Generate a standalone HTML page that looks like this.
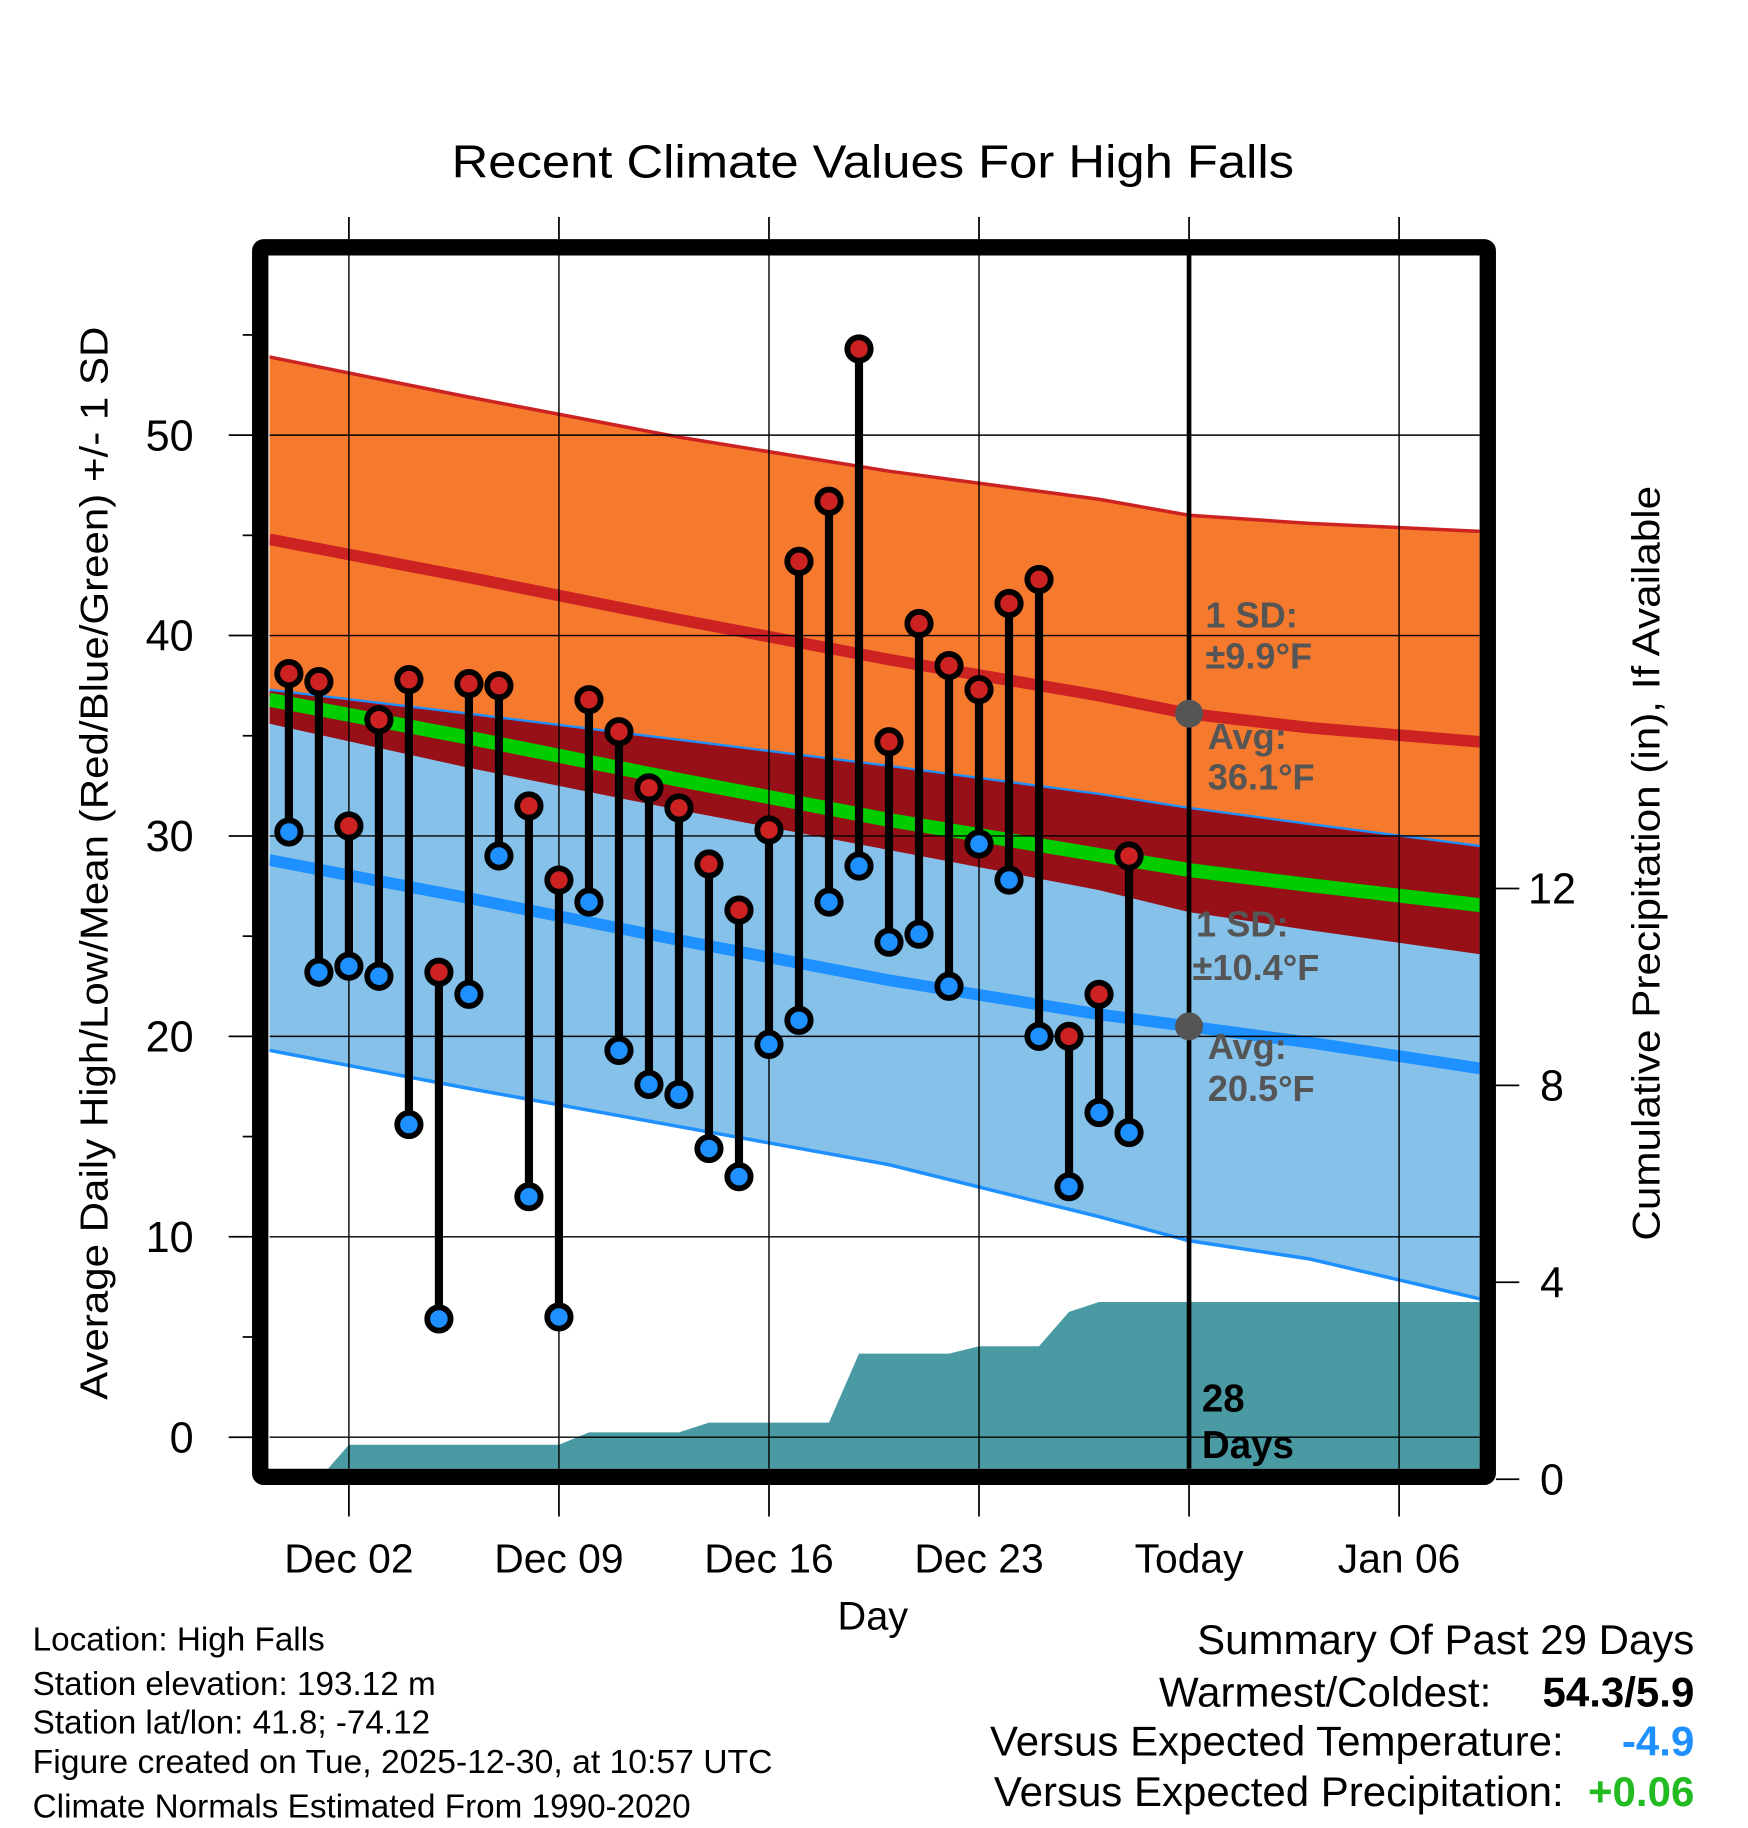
<!DOCTYPE html>
<html><head><meta charset="utf-8"><style>
html,body{margin:0;padding:0;background:#fff}
svg{display:block}
text{font-family:"Liberation Sans",sans-serif}
</style></head><body>
<svg id="chart" xmlns="http://www.w3.org/2000/svg" width="1748" height="1828" viewBox="0 0 1498 1567" preserveAspectRatio="none">
<defs><clipPath id="plotclip"><rect x="231" y="219" width="1037" height="1040"/></clipPath></defs>
<text x="748" y="152" font-size="40" text-anchor="middle" textLength="722" lengthAdjust="spacingAndGlyphs">Recent Climate Values For High Falls</text>
<g id="bands" clip-path="url(#plotclip)"></g>
<g id="axes"></g>
<g id="marks"></g>
<text transform="translate(92,740) rotate(-90)" font-size="33" text-anchor="middle" textLength="920" lengthAdjust="spacingAndGlyphs">Average Daily High/Low/Mean (Red/Blue/Green) +/- 1 SD</text>
<text transform="translate(1422,740) rotate(-90)" font-size="33" text-anchor="middle" textLength="647" lengthAdjust="spacingAndGlyphs">Cumulative Precipitation (in), If Available</text>
<text x="748" y="1397" font-size="34" text-anchor="middle">Day</text>
<g font-size="31" font-weight="bold" fill="#555">
<text x="1033" y="538">1 SD:</text><text x="1033" y="573">±9.9°F</text>
<text x="1035" y="642">Avg:</text><text x="1035" y="677">36.1°F</text></g>
<g font-size="31" font-weight="bold" fill="#555">
<text x="1025" y="803">1 SD:</text><text x="1022" y="840">±10.4°F</text>
<text x="1035" y="908">Avg:</text><text x="1035" y="944">20.5°F</text></g>
<g font-size="33" font-weight="bold"><text x="1030" y="1210">28</text><text x="1030" y="1250">Days</text></g>
<g font-size="28.5">
<text x="28" y="1415">Location: High Falls</text>
<text x="28" y="1453">Station elevation: 193.12 m</text>
<text x="28" y="1486">Station lat/lon: 41.8; -74.12</text>
<text x="28" y="1520" textLength="634" lengthAdjust="spacingAndGlyphs">Figure created on Tue, 2025-12-30, at 10:57 UTC</text>
<text x="28" y="1558">Climate Normals Estimated From 1990-2020</text></g>
<g font-size="36" text-anchor="end">
<text x="1452" y="1418">Summary Of Past 29 Days</text>
<text x="1278" y="1463">Warmest/Coldest:</text>
<text x="1452" y="1463" font-weight="bold">54.3/5.9</text>
<text x="1340" y="1505">Versus Expected Temperature:</text>
<text x="1452" y="1505" font-weight="bold" fill="#1e90ff">-4.9</text>
<text x="1340" y="1548">Versus Expected Precipitation:</text>
<text x="1452" y="1548" font-weight="bold" fill="#22bb22">+0.06</text></g>
</svg>
<script>
// day index relative to Dec 02
const dayIdx = [-2,-1,0,1,2,3,4,5,6,7,8,9,10,11,12,13,14,15,16,17,18,19,20,21,22,23,24,25,26];
const highs = [38.1,37.7,30.5,35.8,37.8,23.2,37.6,37.5,31.5,27.8,36.8,35.2,32.4,31.4,28.6,26.3,30.3,43.7,46.7,54.3,34.7,40.6,38.5,37.3,41.6,42.8,20.0,22.1,29.0];
const lows = [30.2,23.2,23.5,23.0,15.6,5.9,22.1,29.0,12.0,6.0,26.7,19.3,17.6,17.1,14.4,13.0,19.6,20.8,26.7,28.5,24.7,25.1,22.5,29.6,27.8,20.0,12.5,16.2,15.2];
const precip = [0,0,0.7,0.7,0.7,0.7,0.7,0.7,0.7,0.7,0.95,0.95,0.95,0.95,1.15,1.15,1.15,1.15,1.15,2.55,2.55,2.55,2.55,2.7,2.7,2.7,3.4,3.6,3.6];
const normDays = [-2.65,4,11,18,25,28,32,37.7];
const hiAvg = [44.8,42.9,40.8,38.8,37.0,36.1,35.4,34.7];
const hiUpper = [53.9,51.9,49.9,48.2,46.8,46.0,45.6,45.2];
const hiLower = [35.6,33.4,31.3,29.3,27.3,26.2,25.3,24.1];
const loAvg = [28.8,26.9,24.8,22.8,21.1,20.5,19.7,18.4];
const loUpper = [37.3,36.1,34.8,33.5,32.1,31.4,30.6,29.5];
const loLower = [19.3,17.4,15.5,13.6,11.0,9.8,8.9,6.9];
const yTicks = [0,10,20,30,40,50];
const y2Ticks = [0,4,8,12];
const xTickDays = [0,7,14,21,28,35];
const xTickLabels = ["Dec 02","Dec 09","Dec 16","Dec 23","Today","Jan 06"];
const todayDay = 28, todayHi = 36.1, todayLo = 20.5;

const NS="http://www.w3.org/2000/svg";
const X = d => 299 + d*25.714;
const Y = t => 1232 - t*17.18;
const Y2 = p => 1268 - p*42.2;
function mk(tag, parent, attrs){const e=document.createElementNS(NS,tag);for(const k in attrs)e.setAttribute(k,attrs[k]);parent.appendChild(e);return e;}
const bands=document.getElementById('bands'), axes=document.getElementById('axes'), marks=document.getElementById('marks');
const pts=(arr)=>normDays.map((d,i)=>X(d).toFixed(1)+','+Y(arr[i]).toFixed(1));
function band(up,lo,fill,name){const p=pts(up).concat(pts(lo).reverse());const e=mk('polygon',bands,{points:p.join(' '),fill:fill});

}
function line(arr,color,w,name){const e=mk('polyline',bands,{points:pts(arr).join(' '),fill:'none',stroke:color,'stroke-width':w});

}
band(hiUpper,hiLower,'#f57a2e','high-sd-band');
band(loUpper,loLower,'#85c1e9','low-sd-band');
band(loUpper,hiLower,'#970f17','overlap-band');
const mean=hiAvg.map((v,i)=>(v+loAvg[i])/2);
line(mean,'#00cc00',12,'mean-line');
line(hiAvg,'#cc2222',10,'high-avg-line');
line(loAvg,'#1e90ff',10,'low-avg-line');
line(hiUpper,'#cc2222',3,'high-upper-line');
line(loUpper,'#1e90ff',2,'low-upper-line');
line(loLower,'#1e90ff',3,'low-lower-line');
// precipitation area
let pp=[];dayIdx.forEach((d,i)=>pp.push(X(d)+','+Y2(precip[i])));
pp.push('1268,'+Y2(precip[precip.length-1]));pp.push('1268,1268');pp.push(X(dayIdx[0])+',1268');
const pa=mk('polygon',bands,{points:pp.join(' '),fill:'#4a9aa4'});


// grid
yTicks.forEach(t=>{const g=mk('line',bands,{x1:231,x2:1268,y1:Y(t),y2:Y(t),stroke:'#000','stroke-width':1.2});

});
xTickDays.forEach(d=>{const g=mk('line',bands,{x1:X(d),x2:X(d),y1:219,y2:1259,stroke:'#000','stroke-width':1.2});

});
// today line
const tl=mk('line',bands,{x1:X(todayDay),x2:X(todayDay),y1:219,y2:1259,stroke:'#000','stroke-width':4});


// frame
const fr=mk('rect',axes,{x:223,y:212,width:1052,height:1054,fill:'none',stroke:'#000','stroke-width':14,rx:3});


// y ticks
yTicks.forEach(t=>{mk('line',axes,{x1:196,x2:216,y1:Y(t),y2:Y(t),stroke:'#000','stroke-width':1.5});
const tx=mk('text',axes,{x:166,y:Y(t)+13,'font-size':37,'text-anchor':'end'});tx.textContent=t;

});
for(let t=-5;t<=55;t+=10){if(Y(t)<219||Y(t)>1259)continue;mk('line',axes,{x1:208,x2:216,y1:Y(t),y2:Y(t),stroke:'#000','stroke-width':1.5});}
y2Ticks.forEach(p=>{mk('line',axes,{x1:1282,x2:1302,y1:Y2(p),y2:Y2(p),stroke:'#000','stroke-width':1.5});
const tx=mk('text',axes,{x:1330,y:Y2(p)+13,'font-size':37,'text-anchor':'middle'});tx.textContent=p;

});
xTickDays.forEach((d,i)=>{mk('line',axes,{x1:X(d),x2:X(d),y1:186,y2:205,stroke:'#000','stroke-width':1.5});
mk('line',axes,{x1:X(d),x2:X(d),y1:1273,y2:1300,stroke:'#000','stroke-width':1.5});
const tx=mk('text',axes,{x:X(d),y:1348,'font-size':35,'text-anchor':'middle'});tx.textContent=xTickLabels[i];

});
// today dots
[todayHi,todayLo].forEach(v=>{const c=mk('circle',marks,{cx:X(todayDay),cy:Y(v),r:12,fill:'#555'});

});
// daily stems and dots
dayIdx.forEach((d,i)=>{const s=mk('line',marks,{x1:X(d),x2:X(d),y1:Y(highs[i]),y2:Y(lows[i]),stroke:'#000','stroke-width':7});

});
dayIdx.forEach((d,i)=>{const h=mk('circle',marks,{cx:X(d),cy:Y(highs[i]),r:10,fill:'#cc2222',stroke:'#000','stroke-width':5});


const l=mk('circle',marks,{cx:X(d),cy:Y(lows[i]),r:10,fill:'#1e90ff',stroke:'#000','stroke-width':5});

});
</script>
</body></html>
